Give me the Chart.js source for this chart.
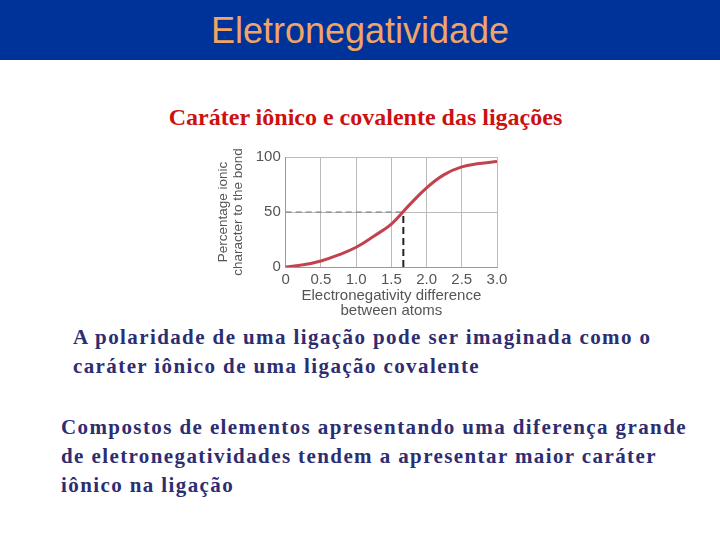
<!DOCTYPE html>
<html>
<head>
<meta charset="utf-8">
<script src="https://cdn.jsdelivr.net/npm/chart.js@4.4.0/dist/chart.umd.min.js"></script>
<style>
  html, body { margin: 0; padding: 0; background: #fff; }
  body { width: 720px; height: 540px; position: relative; overflow: hidden; }
  .band { position: absolute; left: 0; top: 0; width: 720px; height: 60px; background: #003399; }
  .band h1 { margin: 0; font: 36px "Liberation Sans", Arial, sans-serif; color: #f0a466; text-align: center; line-height: 62px; }
  .sub { position: absolute; left: 0; width: 731px; top: 104px; text-align: center; font: bold 24px "Liberation Serif", "Times New Roman", serif; color: #cc1111; }
  .box { position: absolute; left: 205px; top: 143px; width: 310px; height: 175px; }
  .txt { position: absolute; font: bold 21px "Liberation Serif", "Times New Roman", serif; color: #2d2d72; letter-spacing: 1.4px; line-height: 29px; margin: 0; }
</style>
</head>
<body>
<div class="band"><h1>Eletronegatividade</h1></div>
<div class="sub">Caráter iônico e covalente das ligações</div>
<div class="box"><canvas id="chart" width="310" height="175"></canvas></div>
<p class="txt" style="left:73px; top:323px;">A polaridade de uma ligação pode ser imaginada como o<br>caráter iônico de uma ligação covalente</p>
<p class="txt" style="left:61px; top:413px;">Compostos de elementos apresentando uma diferença grande<br>de eletronegatividades tendem a apresentar maior caráter<br>iônico na ligação</p>
<script>
  // electronegativity difference vs percentage ionic character
  const enDiff = [0, 0.25, 0.5, 0.75, 1.0, 1.25, 1.5, 1.75, 2.0, 2.25, 2.5, 2.75, 3.0];
  const ionicPct = [0, 2, 5.5, 11, 18, 28, 39, 56, 72, 84, 91, 94, 96];
  const guideX = [0, 1.67];
  const guideY = [50, 50];
  const dropX = [1.67, 1.67];
  const dropY = [0, 50];
  const xTicks = [0, 0.5, 1.0, 1.5, 2.0, 2.5, 3.0];
  const yTicks = [0, 50, 100];

  function pts(xs, ys) {
    return xs.map((x, i) => ({ x: x, y: ys[i] }));
  }

  const ctx = document.getElementById('chart').getContext('2d');
  new Chart(ctx, {
    type: 'scatter',
    data: {
      datasets: [
        {
          data: pts(enDiff, ionicPct),
          showLine: true,
          borderColor: '#c4424f',
          borderWidth: 3,
          pointRadius: 0,
          tension: 0.4
        },
        {
          data: pts(guideX, guideY),
          showLine: true,
          borderColor: '#777',
          borderWidth: 1,
          borderDash: [6, 4],
          pointRadius: 0
        },
        {
          data: pts(dropX, dropY),
          showLine: true,
          borderColor: '#222',
          borderWidth: 2,
          borderDash: [7, 4],
          pointRadius: 0
        }
      ]
    },
    options: {
      responsive: false,
      animation: false,
      devicePixelRatio: 1,
      layout: { padding: { top: 4, right: 18, left: 11, bottom: 0 } },
      plugins: { legend: { display: false }, tooltip: { enabled: false } },
      scales: {
        x: {
          type: 'linear',
          min: 0,
          max: 3,
          afterBuildTicks: axis => { axis.ticks = xTicks.map(v => ({ value: v })); },
          ticks: {
            color: '#555',
            font: { family: 'Liberation Sans', size: 15 },
            padding: 4,
            maxRotation: 0,
            callback: v => v === 0 ? '0' : v.toFixed(1)
          },
          grid: { color: '#bbb', lineWidth: 1, drawTicks: false },
          border: { color: '#999' },
          title: {
            display: true,
            text: ['Electronegativity difference', 'between atoms'],
            color: '#555',
            font: { family: 'Liberation Sans', size: 15, lineHeight: 1.0 },
            padding: { top: -5, bottom: 0 }
          }
        },
        y: {
          min: 0,
          max: 100,
          afterBuildTicks: axis => { axis.ticks = yTicks.map(v => ({ value: v })); },
          ticks: {
            color: '#555',
            font: { family: 'Liberation Sans', size: 15 },
            padding: 5
          },
          grid: { color: '#bbb', lineWidth: 1, drawTicks: false },
          border: { color: '#999' },
          title: {
            display: true,
            text: ['Percentage ionic', 'character to the bond'],
            color: '#555',
            font: { family: 'Liberation Sans', size: 13.5, lineHeight: 1.1 },
            padding: { top: 0, bottom: 5 }
          }
        }
      }
    }
  });
</script>
</body>
</html>
